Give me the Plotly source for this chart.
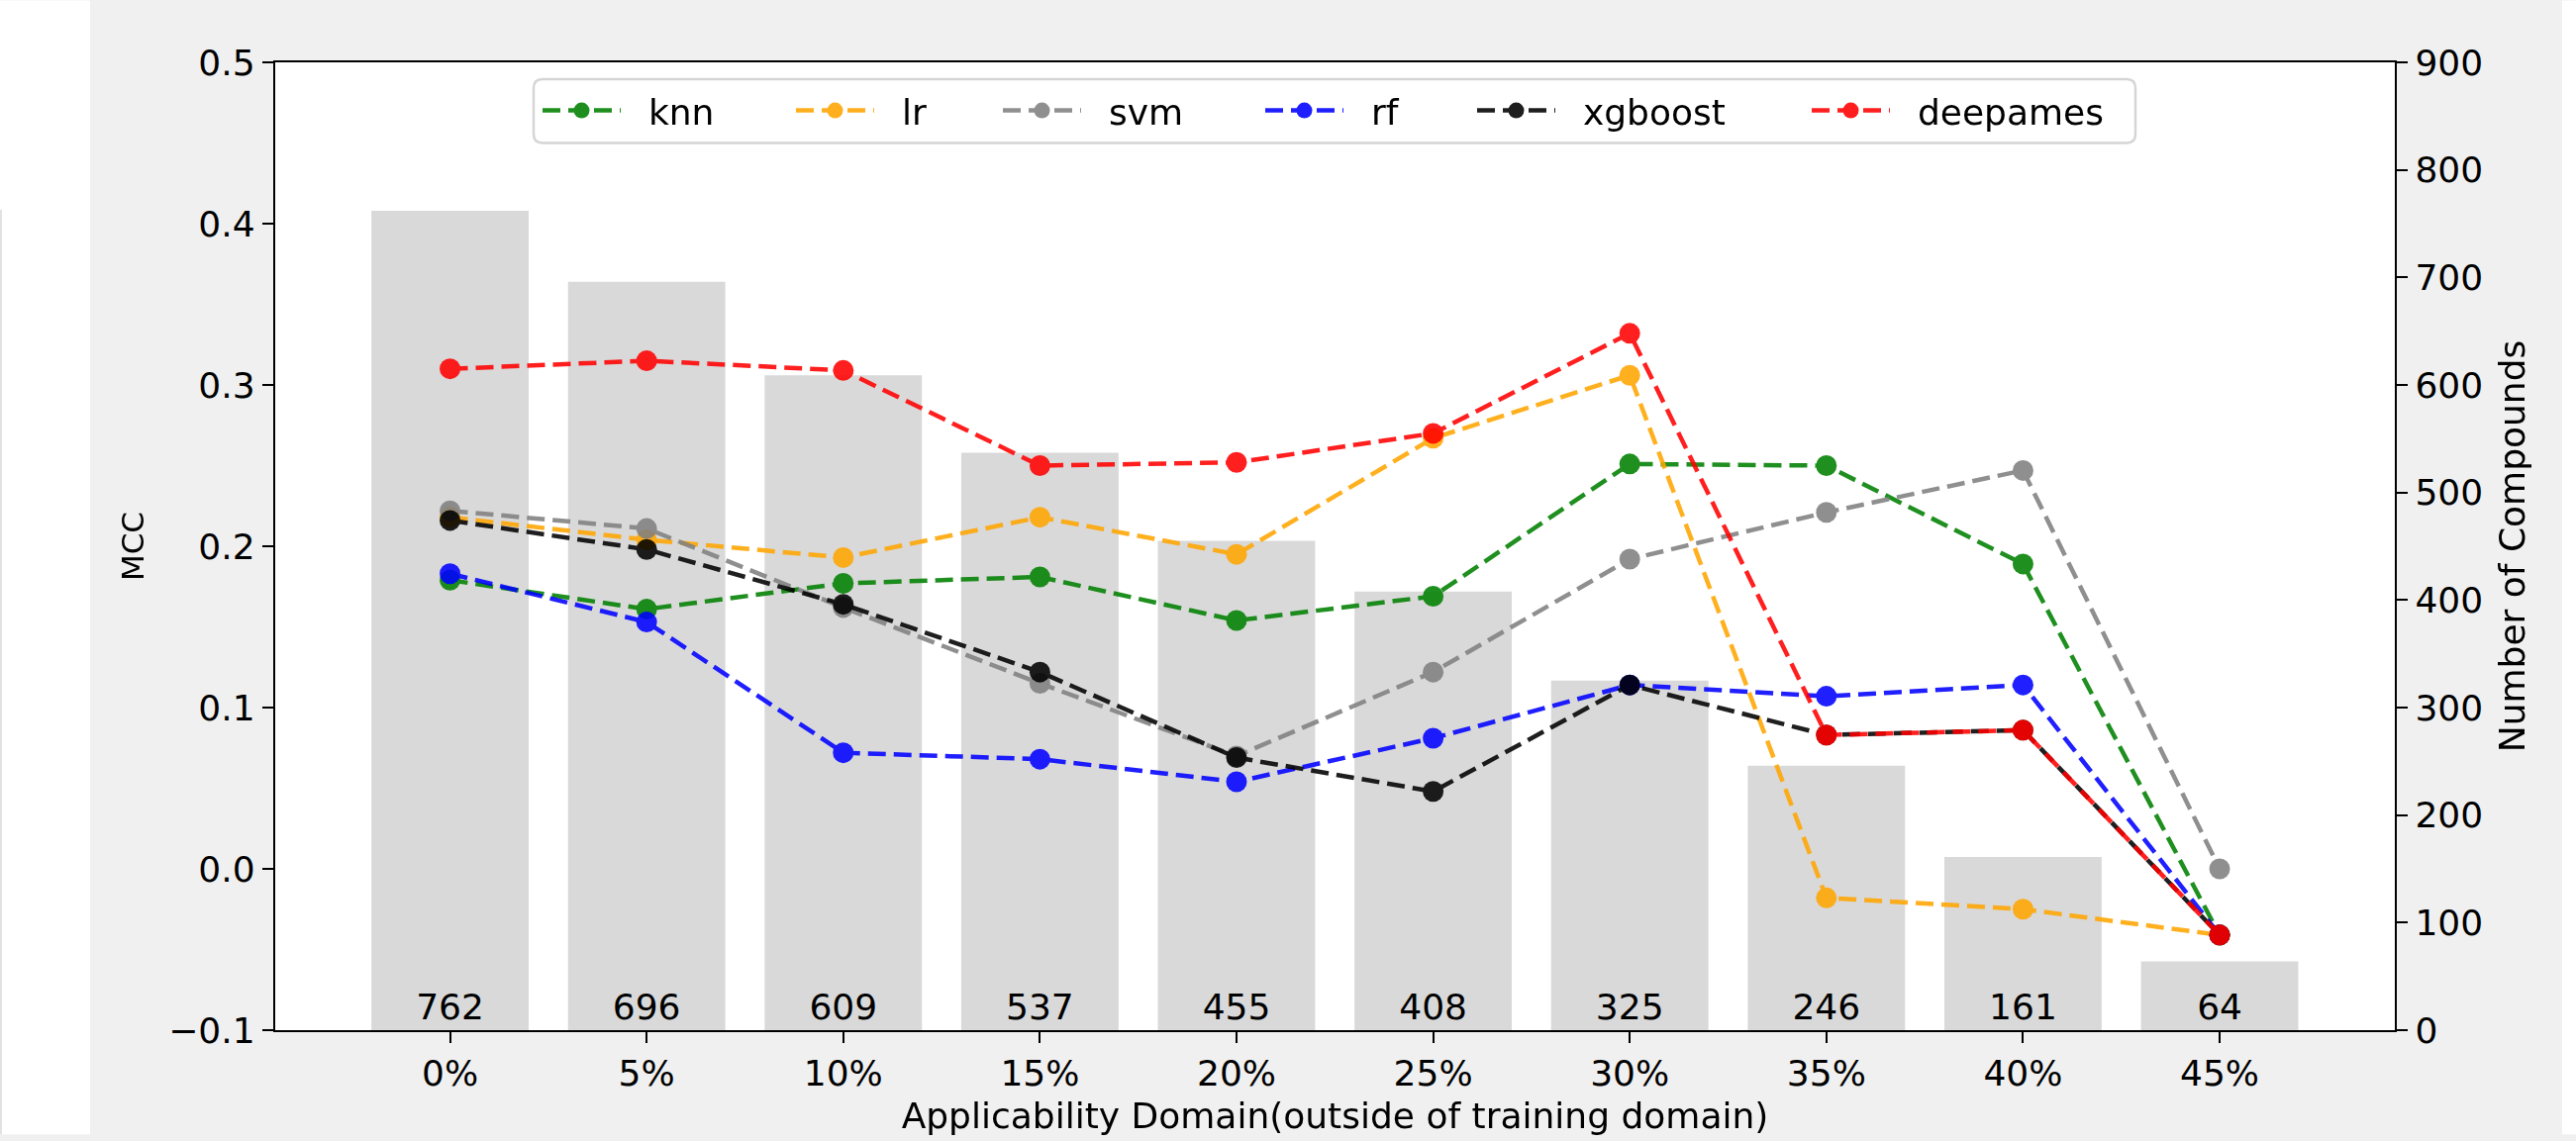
import plotly.graph_objects as go

# Applicability-domain thresholds (x categories)
domains = ['0%', '5%', '10%', '15%', '20%', '25%', '30%', '35%', '40%', '45%']

# Number of compounds outside the training domain at each threshold
compounds = [762, 696, 609, 537, 455, 408, 325, 246, 161, 64]

# MCC per model
knn = [0.179, 0.161, 0.177, 0.181, 0.154, 0.169, 0.251, 0.250, 0.189, -0.041]
lr = [0.218, 0.204, 0.193, 0.218, 0.195, 0.267, 0.306, -0.018, -0.025, -0.041]
svm = [0.222, 0.211, 0.162, 0.115, 0.070, 0.122, 0.192, 0.221, 0.247, 0.000]
rf = [0.183, 0.153, 0.072, 0.068, 0.054, 0.081, 0.114, 0.107, 0.114, -0.041]
xgboost = [0.216, 0.198, 0.164, 0.122, 0.069, 0.048, 0.114, 0.083, 0.086, -0.041]
deepames = [0.310, 0.315, 0.309, 0.250, 0.252, 0.270, 0.332, 0.083, 0.086, -0.041]

model_names = ['knn', 'lr', 'svm', 'rf', 'xgboost', 'deepames']
model_values = [knn, lr, svm, rf, xgboost, deepames]
model_colors = ['#008000', '#FFA500', '#808080', '#0000FF', '#000000', '#FF0000']

FONT = 'DejaVu Sans'
AX_W = 2.4
W, H = 2602, 1153
ML, MR, MT, MB = 278, 183, 63, 106
PW, PH = W - ML - MR, H - MT - MB


def px_x(px):
    """page pixel column -> paper x"""
    return (px - ML) / PW


def px_y(py):
    """page pixel row -> paper y"""
    return (H - MB - py) / PH


fig = go.Figure()

# compound counts as grey bars on the right-hand axis, count written at the base
fig.add_trace(go.Bar(
    x=domains, y=compounds, yaxis='y', width=0.8,
    marker=dict(color='#d9d9d9', line=dict(width=0)),
    text=[str(c) for c in compounds], textposition='inside',
    insidetextanchor='start', constraintext='none',
    textfont=dict(family=FONT, size=36, color='black'),
    showlegend=False, hoverinfo='skip',
))

# MCC curves on the left-hand axis, each with its own legend entry slot
for i, (name, vals, color) in enumerate(zip(model_names, model_values, model_colors)):
    fig.add_trace(go.Scatter(
        x=domains, y=vals, yaxis='y2', name='\u00a0\u00a0' + name,
        mode='lines+markers',
        line=dict(color=color, width=4.5, dash='18px,8px'),
        marker=dict(color=color, size=21),
        opacity=0.88,
        legend='legend' if i == 0 else f'legend{i + 1}',
    ))

tick_font = dict(family=FONT, size=36, color='black')

# left edge (page px) of each legend entry's line sample
entry_left = [553, 809, 1018, 1283, 1497, 1835]
legends = {}
for i, left in enumerate(entry_left):
    key = 'legend' if i == 0 else f'legend{i + 1}'
    legends[key] = dict(
        x=px_x(left - 10), xanchor='left', y=px_y(112), yanchor='middle',
        bgcolor='rgba(0,0,0,0)', borderwidth=0,
        font=dict(family=FONT, size=36, color='black'),
        itemwidth=79,
    )

# rounded legend frame
fx0, fx1, fy0, fy1, r = 539, 2157, 80, 145, 9
frame = (
    f'M {px_x(fx0 + r)},{px_y(fy0)} L {px_x(fx1 - r)},{px_y(fy0)} '
    f'Q {px_x(fx1)},{px_y(fy0)} {px_x(fx1)},{px_y(fy0 + r)} '
    f'L {px_x(fx1)},{px_y(fy1 - r)} Q {px_x(fx1)},{px_y(fy1)} {px_x(fx1 - r)},{px_y(fy1)} '
    f'L {px_x(fx0 + r)},{px_y(fy1)} Q {px_x(fx0)},{px_y(fy1)} {px_x(fx0)},{px_y(fy1 - r)} '
    f'L {px_x(fx0)},{px_y(fy0 + r)} Q {px_x(fx0)},{px_y(fy0)} {px_x(fx0 + r)},{px_y(fy0)} Z'
)

fig.update_layout(
    width=W, height=H,
    margin=dict(l=ML, r=MR, t=MT, b=MB),
    paper_bgcolor='#f0f0f0', plot_bgcolor='white',
    font=dict(family=FONT, color='black'),
    barmode='overlay',
    xaxis=dict(
        type='category', range=[-0.889, 9.891],
        showline=True, linecolor='black', linewidth=AX_W, mirror=True,
        ticks='outside', ticklen=11, tickwidth=AX_W, tickcolor='black',
        tickfont=tick_font, showgrid=False,
        title=dict(text='Applicability Domain(outside of training domain)',
                   font=dict(family=FONT, size=36, color='black'), standoff=10),
    ),
    yaxis=dict(
        side='right', range=[0, 900], tick0=0, dtick=100,
        showline=True, linecolor='black', linewidth=AX_W,
        ticks='outside', ticklen=11, tickwidth=AX_W, tickcolor='black',
        tickfont=tick_font, showgrid=False, zeroline=False,
        title=dict(text='Number of Compounds',
                   font=dict(family=FONT, size=36, color='black'), standoff=18),
    ),
    yaxis2=dict(
        overlaying='y', side='left', range=[-0.1, 0.5], tick0=-0.1, dtick=0.1,
        tickformat='.1f',
        showline=True, linecolor='black', linewidth=AX_W,
        ticks='outside', ticklen=11, tickwidth=AX_W, tickcolor='black',
        tickfont=tick_font, showgrid=False, zeroline=False,
        title=dict(text='MCC', font=dict(family=FONT, size=31, color='black'),
                   standoff=15),
    ),
    shapes=[
        # white page strips either side of the figure panel
        dict(type='rect', xref='paper', yref='paper', x0=px_x(0), x1=px_x(91),
             y0=px_y(H), y1=px_y(0), fillcolor='white', line=dict(width=0), layer='below'),
        dict(type='rect', xref='paper', yref='paper', x0=px_x(2588), x1=px_x(W),
             y0=px_y(H), y1=px_y(0), fillcolor='white', line=dict(width=0), layer='below'),
        dict(type='line', xref='paper', yref='paper', x0=px_x(1), x1=px_x(1),
             y0=px_y(H), y1=px_y(213), line=dict(color='#e2e2e2', width=2), layer='below'),
        # legend frame
        dict(type='path', xref='paper', yref='paper', path=frame,
             fillcolor='white', line=dict(color='#d5d5d5', width=2.5), layer='above'),
    ],
    **legends,
)

fig.write_html('out.html')
